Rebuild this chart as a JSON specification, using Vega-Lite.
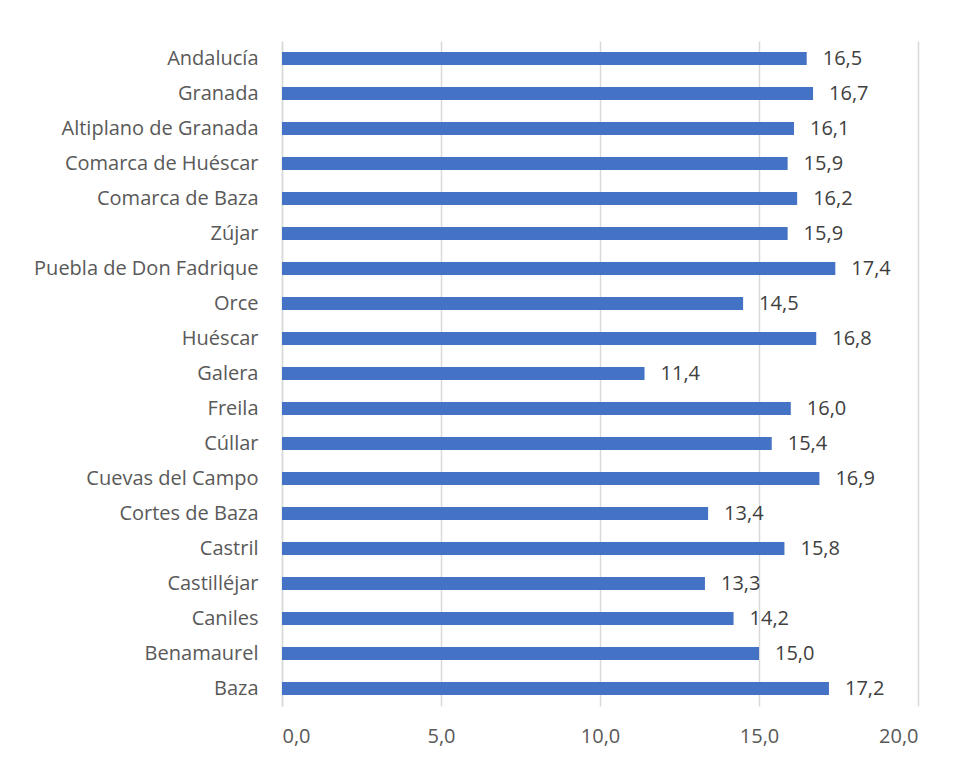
{
  "$schema": "https://vega.github.io/schema/vega-lite/v6.json",
  "autosize": {"type": "none"},
  "width": 636,
  "height": 665,
  "padding": {"left": 282, "top": 41, "right": 37, "bottom": 54},
  "background": "white",
  "config": {
    "locale": {"number": {"decimal": ",", "thousands": ".", "grouping": [3], "currency": ["", " €"]}},
    "view": {"stroke": null},
    "font": "Open Sans"
  },
  "data": {
    "values": [
      {"zona": "Andalucía", "valor": 16.5},
      {"zona": "Granada", "valor": 16.7},
      {"zona": "Altiplano de Granada", "valor": 16.1},
      {"zona": "Comarca de Huéscar", "valor": 15.9},
      {"zona": "Comarca de Baza", "valor": 16.2},
      {"zona": "Zújar", "valor": 15.9},
      {"zona": "Puebla de Don Fadrique", "valor": 17.4},
      {"zona": "Orce", "valor": 14.5},
      {"zona": "Huéscar", "valor": 16.8},
      {"zona": "Galera", "valor": 11.4},
      {"zona": "Freila", "valor": 16.0},
      {"zona": "Cúllar", "valor": 15.4},
      {"zona": "Cuevas del Campo", "valor": 16.9},
      {"zona": "Cortes de Baza", "valor": 13.4},
      {"zona": "Castril", "valor": 15.8},
      {"zona": "Castilléjar", "valor": 13.3},
      {"zona": "Caniles", "valor": 14.2},
      {"zona": "Benamaurel", "valor": 15.0},
      {"zona": "Baza", "valor": 17.2}
    ]
  },
  "encoding": {
    "y": {
      "field": "zona",
      "type": "nominal",
      "sort": null,
      "scale": {"paddingInner": 0.63, "paddingOuter": 0.315},
      "axis": {
        "title": null,
        "ticks": false,
        "domain": true,
        "domainColor": "#d9d9d9",
        "domainWidth": 1.5,
        "labelFontSize": 20,
        "labelColor": "#595959",
        "labelPadding": 24,
        "labelLimit": 400,
        "labelFont": "Open Sans"
      }
    },
    "x": {
      "field": "valor",
      "type": "quantitative",
      "scale": {"domain": [0, 20], "nice": false},
      "axis": {
        "title": null,
        "values": [0, 5, 10, 15, 20],
        "format": ".1f",
        "ticks": false,
        "domain": false,
        "grid": true,
        "gridColor": "#d9d9d9",
        "gridWidth": 1.5,
        "labelFontSize": 20,
        "labelColor": "#595959",
        "labelPadding": 20,
        "labelFont": "Open Sans"
      }
    }
  },
  "layer": [
    {"mark": {"type": "bar", "color": "#4472C4"}},
    {
      "mark": {"type": "text", "align": "left", "dx": 16, "fontSize": 20, "color": "#404040", "font": "Open Sans"},
      "encoding": {"text": {"field": "valor", "type": "quantitative", "format": ".1f"}}
    }
  ]
}
